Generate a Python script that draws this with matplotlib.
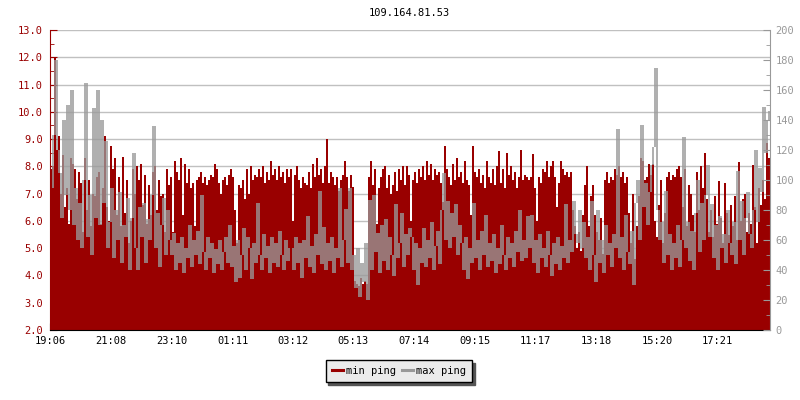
"""Ping chart for 109.164.81.53: min ping (filled, left axis) + max ping (line, right axis)."""

import matplotlib
matplotlib.use("Agg")
import matplotlib.pyplot as plt
from matplotlib.ticker import MultipleLocator, FormatStrFormatter
import numpy as np

TITLE = "109.164.81.53"
START = "19:06"
SAMPLE_MIN = 4          # one sample every 4 minutes, 24 h in total
TICK_LABELS = ["19:06", "21:08", "23:10", "01:11", "03:12", "05:13",
               "07:14", "09:15", "11:17", "13:18", "15:20", "17:21"]

RED = "#990000"
GREY = "#999999"
FONT = "DejaVu Sans Mono"

# min ping, left axis units (4-minute steps)
min_ping = [
    7.9, 8.0, 12.0, 8.6, 9.1, 7.0, 8.4, 6.5, 7.2, 5.9,
    8.3, 8.1, 7.9, 6.8, 7.8, 7.4, 5.6, 8.3, 6.4, 7.5,
    5.8, 7.0, 6.9, 7.6, 7.8, 5.9, 7.2, 9.1, 6.5, 6.0,
    8.75, 7.9, 8.3, 6.2, 7.6, 5.8, 8.35, 6.3, 7.5, 5.2,
    6.0, 7.9, 7.0, 8.0, 7.5, 8.1, 6.6, 7.7, 5.9, 7.3,
    6.2, 7.8, 8.0, 6.4, 7.5, 6.9, 7.0, 5.6, 7.9, 7.3,
    # 21:06 -
    7.6, 5.6, 8.2, 7.8, 7.5, 8.3, 6.2, 8.1, 7.4, 7.9,
    7.2, 7.4, 5.8, 7.5, 7.6, 7.8, 7.4, 7.6, 7.3, 7.5,
    7.7, 7.6, 8.1, 7.9, 7.4, 7.0, 7.5, 7.6, 7.3, 7.7,
    7.9, 7.6, 6.4, 5.2, 7.3, 7.2, 7.5, 6.8, 7.9, 7.0,
    8.0, 7.5, 7.7, 7.6, 7.9, 7.6, 8.0, 7.4, 7.8, 7.5,
    8.2, 7.7, 7.9, 7.5, 8.0, 7.6, 7.8, 7.4, 7.9, 7.6,
    # 03:06 -
    7.9, 6.0, 7.7, 8.0, 7.5, 7.2, 7.6, 7.4, 7.3, 7.8,
    7.2, 8.1, 7.6, 8.3, 7.7, 7.9, 7.4, 8.0, 9.0, 7.4,
    7.8, 7.6, 7.3, 7.6, 7.1, 7.5, 7.7, 8.2, 7.6, 7.1,
    7.7, 7.25, 3.8, 3.7, 3.6, 3.9, 3.7, 3.8, 3.7, 7.6,
    8.2, 7.3, 7.9, 5.9, 7.2, 7.6, 7.9, 8.0, 7.2, 7.7,
    7.0, 7.3, 7.8, 7.1, 7.9, 7.5, 8.0, 7.3, 8.0, 7.7,
    # 07:06 -
    6.0, 7.5, 7.8, 7.4, 7.9, 7.6, 8.0, 7.5, 8.2, 7.7,
    8.1, 7.5, 7.9, 7.7, 7.8, 7.4, 6.7, 8.75, 7.9, 7.6,
    7.3, 8.1, 7.5, 8.3, 7.6, 7.8, 7.4, 8.2, 7.5, 7.3,
    6.2, 8.75, 7.8, 7.6, 7.9, 7.4, 7.7, 7.2, 8.2, 7.6,
    7.4, 7.9, 7.3, 8.0, 8.55, 7.4, 7.9, 7.2, 8.5, 7.7,
    8.0, 7.5, 7.8, 7.2, 7.6, 8.6, 7.5, 7.7, 7.6, 7.5,
    # 11:06 -
    7.6, 8.45, 7.2, 6.0, 7.6, 7.4, 7.9, 7.8, 8.2, 7.6,
    8.0, 8.2, 7.6, 6.5, 7.4, 8.2, 7.9, 7.7, 7.8, 7.6,
    7.8, 6.4, 5.8, 5.0, 5.6, 4.9, 6.2, 7.3, 8.0, 5.8,
    6.9, 7.3, 6.2, 5.6, 5.3, 6.1, 4.8, 7.5, 7.8, 7.4,
    7.6, 7.5, 7.9, 7.7, 8.0, 7.6, 7.8, 7.4, 7.6, 6.3,
    5.2, 7.0, 4.6, 5.8, 6.9, 8.3, 8.2, 7.5, 7.6, 8.1,
    # 15:06 -
    7.7, 8.1, 6.0, 5.4, 6.6, 7.5, 5.2, 6.3, 7.6, 7.8,
    7.5, 7.7, 7.6, 7.9, 8.0, 7.6, 6.5, 7.9, 5.8, 7.3,
    7.0, 6.2, 5.6, 7.8, 6.4, 8.0, 7.2, 8.5, 6.8, 5.6,
    6.4, 5.4, 6.9, 5.9, 7.45, 6.1, 5.2, 7.4, 6.3, 5.5,
    6.6, 5.8, 6.9, 5.3, 8.15, 6.0, 6.8, 7.0, 5.6, 6.3,
    5.9, 8.05, 6.5, 5.2, 7.2, 6.6, 7.5, 6.8, 8.85, 8.3,
]

# max ping, right axis (ms)
max_ping = [
    95, 130, 180, 120, 105, 75, 140, 90, 150, 80,
    160, 70, 95, 60, 85, 55, 100, 165, 62, 90,
    50, 148, 75, 160, 70, 140, 85, 126, 55, 72,
    95, 48, 80, 60, 92, 45, 70, 62, 88, 40,
    75, 118, 55, 40, 82, 62, 85, 45, 74, 60,
    90, 136, 55, 78, 42, 70, 88, 50, 80, 60,
    # 21:06 -
    50, 65, 40, 58, 45, 62, 38, 55, 48, 70,
    42, 60, 50, 66, 44, 90, 52, 40, 62, 48,
    58, 38, 54, 44, 60, 40, 52, 62, 45, 70,
    42, 56, 32, 60, 35, 50, 68, 40, 62, 55,
    34, 58, 45, 85, 50, 40, 64, 48, 56, 38,
    62, 45, 58, 42, 66, 50, 40, 60, 46, 55,
    # 03:06 -
    55, 40, 62, 45, 58, 35, 60, 48, 76, 42,
    56, 38, 64, 50, 93, 44, 69, 40, 58, 46,
    62, 38, 55, 48, 95, 42, 60, 81, 45, 95,
    40, 50, 28, 55, 22, 45, 32, 58, 20, 87,
    40, 90, 52, 65, 38, 70, 46, 74, 40, 62,
    50, 36, 84, 48, 58, 78, 42, 64, 50, 68,
    # 07:06 -
    62, 40, 58, 30, 55, 45, 68, 42, 60, 48,
    72, 40, 56, 66, 44, 80, 105, 60, 86, 55,
    78, 62, 84, 50, 70, 58, 40, 62, 34, 55,
    45, 85, 48, 60, 40, 66, 50, 77, 42, 58,
    46, 64, 38, 55, 44, 70, 50, 40, 62, 48,
    58, 42, 66, 52, 80, 46, 60, 48, 76, 55,
    # 11:06 -
    77, 45, 60, 38, 64, 48, 55, 42, 66, 50,
    36, 58, 44, 62, 40, 56, 48, 84, 45, 60,
    52, 86, 64, 58, 80, 55, 72, 48, 62, 40,
    86, 50, 32, 80, 45, 60, 38, 70, 50, 58,
    42, 64, 55, 134, 48, 62, 40, 77, 52, 44,
    66, 30, 85, 100, 60, 137, 82, 98, 70, 92,
    # 15:06 -
    110, 122, 175, 80, 60, 72, 45, 93, 50, 64,
    40, 58, 48, 70, 42, 60, 129, 55, 72, 46,
    66, 40, 78, 100, 52, 85, 60, 90, 110, 62,
    84, 48, 70, 40, 76, 55, 64, 45, 80, 58,
    50, 72, 44, 106, 60, 86, 50, 75, 92, 64,
    55, 80, 120, 72, 108, 92, 149, 118, 140, 146,
]


def _minutes_since_start(hhmm: str) -> int:
    h, m = map(int, hhmm.split(":"))
    h0, m0 = map(int, START.split(":"))
    return ((h * 60 + m) - (h0 * 60 + m0)) % (24 * 60)


def main() -> None:
    edges = np.arange(len(min_ping) + 1) * SAMPLE_MIN
    centers = edges[:-1] + SAMPLE_MIN / 2
    tick_pos = [_minutes_since_start(t) for t in TICK_LABELS]

    fig = plt.figure(figsize=(8, 4), dpi=100)
    ax = fig.add_axes([50 / 800, 70 / 400, 720 / 800, 300 / 400])
    ax2 = ax.twinx()

    ax.stairs(min_ping, edges, baseline=2.0, fill=True, color=RED, lw=0)

    # max ping like a pixel-column line chart: one vertical stroke per sample,
    # spanning from the previous value to the current one
    mp = np.asarray(max_ping, dtype=float)
    prev = np.concatenate([mp[:1], mp[:-1]])
    ax2.vlines(centers, np.minimum(prev, mp), np.maximum(prev, mp),
               color=GREY, lw=1.1)

    ax.set_xlim(0, 24 * 60)
    ax.set_ylim(2.0, 13.0)
    ax2.set_ylim(0, 200)

    # ---- axes cosmetics ----------------------------------------------
    ax.set_axisbelow(True)
    ax.grid(True, axis="y", color="#c0c0c0", lw=1.0)
    ax.spines["top"].set_visible(False)
    ax.spines["right"].set_visible(False)
    ax.spines["left"].set_color(RED)
    ax.spines["bottom"].set_color("black")
    for side in ("top", "left", "bottom"):
        ax2.spines[side].set_visible(False)
    ax2.spines["right"].set_color(GREY)

    ax.yaxis.set_major_locator(MultipleLocator(1.0))
    ax.yaxis.set_minor_locator(MultipleLocator(0.5))
    ax.yaxis.set_major_formatter(FormatStrFormatter("%.1f"))
    ax.tick_params(axis="y", which="major", direction="in", length=5,
                   color=RED, labelcolor=RED, pad=5)
    ax.tick_params(axis="y", which="minor", direction="in", length=3, color=RED)

    ax.set_xticks(tick_pos, TICK_LABELS)
    ax.tick_params(axis="x", direction="in", length=5, color="black", pad=4)

    ax2.yaxis.set_major_locator(MultipleLocator(20))
    ax2.yaxis.set_minor_locator(MultipleLocator(10))
    ax2.tick_params(axis="y", which="major", direction="in", length=5,
                    color=GREY, labelcolor=GREY, pad=4)
    ax2.tick_params(axis="y", which="minor", direction="in", length=3, color=GREY)

    for lab in ax.get_xticklabels() + ax.get_yticklabels() + ax2.get_yticklabels():
        lab.set_fontfamily(FONT)
        lab.set_fontsize(7.5)

    fig.text(409 / 800, 1 - 13 / 400, TITLE, ha="center", va="center",
             family=FONT, fontsize=7.5)

    # ---- legend ------------------------------------------------------
    handles = [plt.Line2D([], [], color=RED, lw=2.2),
               plt.Line2D([], [], color=GREY, lw=2.2)]
    leg = fig.legend(handles, ["min ping", "max ping"], loc="center",
                     bbox_to_anchor=(399 / 800, 1 - 371 / 400), ncol=2,
                     prop={"family": FONT, "size": 7.5}, frameon=True,
                     fancybox=False, shadow={"color": "#555555", "alpha": 1.0},
                     handlelength=1.1, handletextpad=0.3, columnspacing=0.5,
                     borderpad=0.6, borderaxespad=0)
    leg.get_frame().set_facecolor("#ebebeb")
    leg.get_frame().set_edgecolor("black")
    leg.get_frame().set_alpha(1.0)
    leg.get_frame().set_linewidth(1.0)

    fig.savefig("out.png", dpi=100)
    plt.close(fig)


if __name__ == "__main__":
    main()
